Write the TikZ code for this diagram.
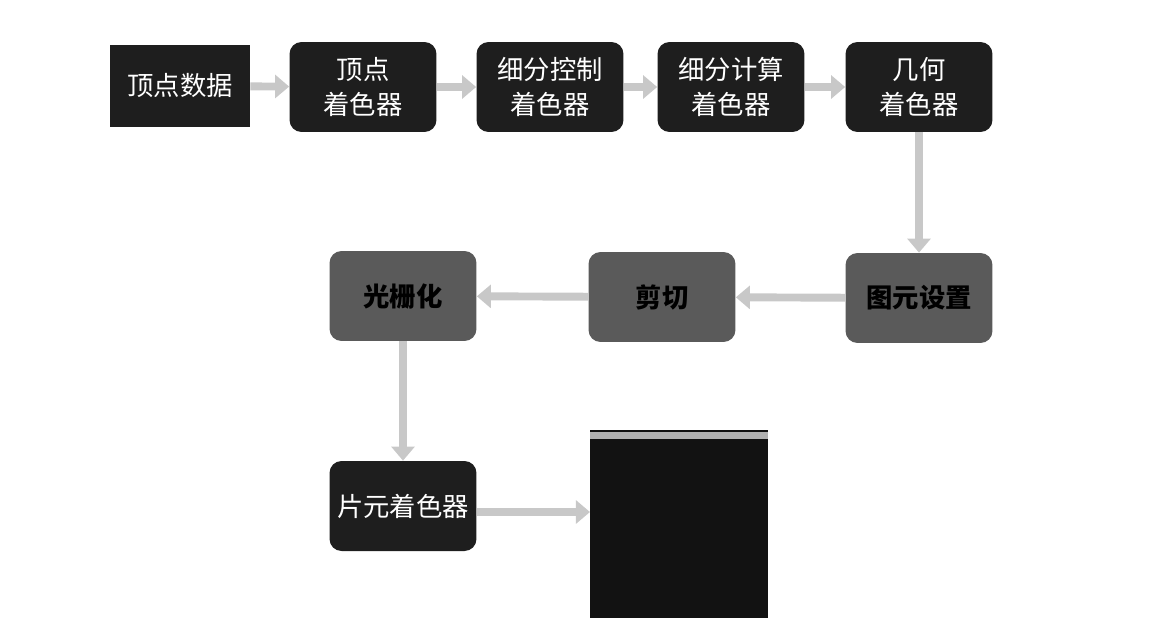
\documentclass[tikz,border=0pt]{standalone}
\usepackage{fontspec}
\usepackage{tikz}
\usetikzlibrary{arrows.meta}
\newfontfamily\cjk{Noto Sans CJK SC}
\definecolor{boxdark}{HTML}{1E1E1E}
\definecolor{boxgray}{HTML}{5A5A5A}
\definecolor{pipe}{HTML}{C8C8C8}
\tikzset{
  stage/.style={rounded corners=0.24cm, minimum width=2.94cm, minimum height=1.8cm,
    align=center, font=\cjk\fontsize{15}{20}\selectfont},
  darkstage/.style={stage, fill=boxdark, text=white},
  graystage/.style={stage, fill=boxgray, text=black, font=\cjk\bfseries\fontsize{15}{20}\selectfont},
  flow/.style={line width=4.5pt, draw=pipe, -{Triangle[length=8pt, width=13pt]}}
}
\begin{document}
\begin{tikzpicture}[x=0.02cm, y=-0.02cm]
      \useasboundingbox (0, 0) rectangle (1150, 640);
      \node[darkstage, rounded corners=0pt, minimum width=2.8cm, minimum height=1.64cm] (vd) at (180, 86) {顶点数据};
      \foreach \x/\name/\txt in {363/vs/顶点\\着色器, 550/tcs/细分控制\\着色器, 731/tes/细分计算\\着色器, 919/gs/几何\\着色器} {
        \node[darkstage] (\name) at (\x, 87) {\txt};
      }
      \node[graystage] (ps) at (919, 298) {图元设置};
      \node[graystage] (clip) at (662, 297) {剪切};
      \node[graystage] (rast) at (403, 296) {光栅化};
      \node[darkstage] (fs) at (403, 506) {片元着色器};
      \fill[boxdark!60!black] (590, 430) rectangle (768, 618);
      \fill[gray!60] (590, 432) rectangle (768, 439);
      \coordinate (screen) at (590, 512);
      \draw[flow] (vd) -- (vs);
      \draw[flow] (vs) -- (tcs);
      \draw[flow] (tcs) -- (tes);
      \draw[flow] (tes) -- (gs);
      \draw[flow] (gs) -- (ps);
      \draw[flow] (ps) -- (clip);
      \draw[flow] (clip) -- (rast);
      \draw[flow] (rast) -- (fs);
      \draw[flow] (fs.east |- screen) -- (screen);
    \end{tikzpicture}
\end{document}
